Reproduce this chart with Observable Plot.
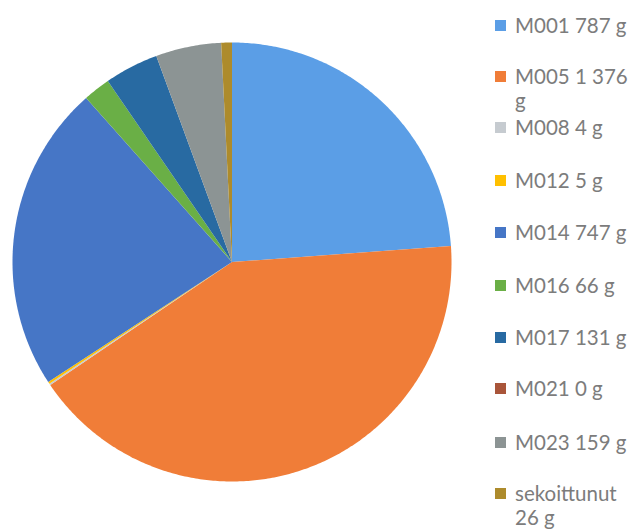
<!DOCTYPE html>
<html>
<head>
<meta charset="utf-8">
<script src="https://cdn.jsdelivr.net/npm/d3@7"></script>
<script src="https://cdn.jsdelivr.net/npm/@observablehq/plot@0.6"></script>
<style>
  html, body { margin: 0; padding: 0; background: #fff; }
  #wrap { position: relative; width: 630px; height: 529px; overflow: hidden; }
  #legend { position: absolute; left: 0; top: 0; width: 630px; height: 529px; pointer-events: none;
    font-family: Lato, sans-serif; font-size: 20.5px; color: #7c7c7c; }
  .row { position: absolute; left: 495px; width: 135px; line-height: 24px; }
  .sw { position: absolute; left: 0; top: 6.5px; width: 11px; height: 11px; }
  .tx { position: absolute; left: 20px; white-space: nowrap; }
</style>
</head>
<body>
<div id="wrap"><div id="chart"></div><div id="legend"></div></div>
<script>
const categories = ["M001", "M005", "M008", "M012", "M014", "M016", "M017", "M021", "M023", "sekoittunut"];
const values = [787, 1376, 4, 5, 747, 66, 131, 0, 159, 26];
const labelLines = [["M001 787 g"], ["M005 1 376", "g"], ["M008 4 g"], ["M012 5 g"], ["M014 747 g"], ["M016 66 g"], ["M017 131 g"], ["M021 0 g"], ["M023 159 g"], ["sekoittunut", "26 g"]];
const colors = ["#5b9ee6", "#f07d38", "#c6cbd0", "#ffc000", "#4676c6", "#6aaf46", "#286aa2", "#a9553a", "#8c9494", "#ad8b2c"];

const total = d3.sum(values);
const pts = [];
let cum = 0;
categories.forEach((c, i) => {
  const v = values[i];
  if (v > 0) {
    const a0 = cum / total * 2 * Math.PI, a1 = (cum + v) / total * 2 * Math.PI;
    const n = Math.max(2, Math.ceil((a1 - a0) / 0.01));
    pts.push({cat: c, x: 0, y: 0});
    for (let k = 0; k <= n; k++) {
      const a = a0 + (a1 - a0) * k / n;
      pts.push({cat: c, x: Math.sin(a), y: Math.cos(a)});
    }
    pts.push({cat: c, x: 0, y: 0});
  }
  cum += v;
});

const chart = Plot.plot({
  width: 630, height: 529,
  marginLeft: 12, marginRight: 179, marginTop: 42, marginBottom: 48,
  x: {domain: [-1, 1], axis: null},
  y: {domain: [-1, 1], axis: null},
  color: {domain: categories, range: colors},
  marks: [
    Plot.line(pts, {x: "x", y: "y", z: "cat", fill: "cat", stroke: null, curve: "linear"})
  ]
});
document.getElementById("chart").appendChild(chart);

const legend = document.getElementById("legend");
const rowY = [25, 76, 127, 180, 232, 285, 337, 388, 442, 493];
categories.forEach((c, i) => {
  const row = document.createElement("div");
  row.className = "row";
  row.style.top = (rowY[i] - 12) + "px";
  const sw = document.createElement("div");
  sw.className = "sw";
  sw.style.background = colors[i];
  row.appendChild(sw);
  labelLines[i].forEach((line, j) => {
    const tx = document.createElement("div");
    tx.className = "tx";
    tx.style.top = (j * 24) + "px";
    tx.textContent = line;
    row.appendChild(tx);
  });
  legend.appendChild(row);
});
</script>
</body>
</html>
